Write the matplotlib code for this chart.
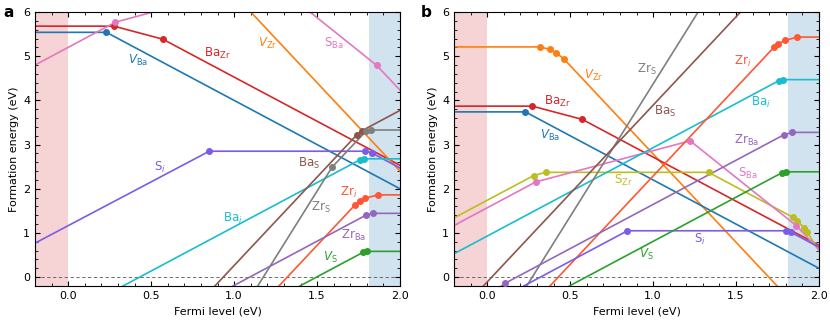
import matplotlib
matplotlib.use('Agg')
import matplotlib.pyplot as plt
from matplotlib.ticker import MultipleLocator

# defect formation energy lines: vertices (Fermi level, energy); inner vertices = transition levels
a_VBa = [(-0.2, 5.54), (0.23, 5.54), (2.0, 2.0)]
a_BaZr = [(-0.2, 5.68), (0.275, 5.68), (0.57, 5.385), (2.0, 2.53)]
a_SBa = [(-0.2, 4.8), (0.285, 5.77), (1.2175, 6.72), (1.86, 4.79), (2.0, 4.23)]
a_VZr = [(0.9, 6.8), (2.0, 2.4)]
a_Si = [(-0.2, 0.77), (0.85, 2.85), (1.79, 2.85), (1.83, 2.81), (2.0, 2.47)]
a_Bai = [(0.33, -0.2), (1.758, 2.656), (1.78, 2.678), (2.0, 2.678)]
a_BaS = [(0.884, -0.2), (1.74, 3.224), (1.77, 3.314), (2.0, 3.774)]
a_ZrS = [(1.142, -0.2), (1.59, 2.488), (1.794, 3.30), (1.824, 3.33), (2.0, 3.33)]
a_Zri = [(1.27, -0.2), (1.728, 1.632), (1.758, 1.722), (1.79, 1.786), (1.866, 1.862), (2.0, 1.862)]
a_ZrBa = [(0.993, -0.2), (1.794, 1.402), (1.836, 1.444), (2.0, 1.444)]
a_VS = [(1.396, -0.2), (1.776, 0.56), (1.80, 0.584), (2.0, 0.584)]

b_VZr = [(-0.2, 5.21), (0.32, 5.21), (0.377, 5.153), (0.417, 5.073), (0.463, 4.935), (2.0, -1.21)]
b_BaZr = [(-0.2, 3.87), (0.272, 3.87), (0.573, 3.57), (2.0, 0.72)]
b_VBa = [(-0.2, 3.74), (0.23, 3.74), (2.0, 0.2)]
b_SZr = [(-0.2, 1.34), (0.28, 2.30), (0.352, 2.372), (1.334, 2.372), (1.844, 1.352),
         (1.87, 1.274), (1.91, 1.114), (1.93, 1.014), (2.0, 0.594)]
b_SBa = [(-0.2, 1.17), (0.292, 2.154), (1.223, 3.085), (1.864, 1.162), (2.0, 0.62)]
b_Bai = [(-0.2, 0.53), (1.76, 4.45), (1.78, 4.47), (2.0, 4.47)]
b_Zri = [(0.378, -0.2), (1.728, 5.2), (1.753, 5.275), (1.794, 5.357), (1.87, 5.433), (2.0, 5.433)]
b_ZrS = [(0.238, -0.2), (1.4, 6.772)]
b_BaS = [(-0.023, -0.2), (1.6, 6.292)]
b_ZrBa = [(0.0, -0.46), (0.107, -0.14), (1.79, 3.226), (1.84, 3.276), (2.0, 3.276)]
b_Si = [(0.22, -0.2), (0.845, 1.05), (1.80, 1.05), (1.828, 1.022), (2.0, 0.678)]
b_VS = [(0.495, -0.2), (1.774, 2.358), (1.80, 2.384), (2.0, 2.384)]

colors = {
    'VBa': '#1f77b4', 'BaZr': '#d62728', 'SBa': '#e377c2', 'VZr': '#ff7f0e',
    'Si': '#7b5ce8', 'Bai': '#17becf', 'BaS': '#8c564b', 'ZrS': '#7f7f7f',
    'Zri': '#ff5733', 'ZrBa': '#9467bd', 'VS': '#2ca02c', 'SZr': '#bcbd22',
}
texts = {
    'VBa': r'$V_{\mathrm{Ba}}$', 'BaZr': r'Ba$_{\mathrm{Zr}}$', 'SBa': r'S$_{\mathrm{Ba}}$',
    'VZr': r'$V_{\mathrm{Zr}}$', 'Si': r'S$_i$', 'Bai': r'Ba$_i$', 'BaS': r'Ba$_{\mathrm{S}}$',
    'ZrS': r'Zr$_{\mathrm{S}}$', 'Zri': r'Zr$_i$', 'ZrBa': r'Zr$_{\mathrm{Ba}}$',
    'VS': r'$V_{\mathrm{S}}$', 'SZr': r'S$_{\mathrm{Zr}}$',
}

panel_a = {'VBa': a_VBa, 'BaZr': a_BaZr, 'SBa': a_SBa, 'VZr': a_VZr, 'Si': a_Si,
           'Bai': a_Bai, 'BaS': a_BaS, 'ZrS': a_ZrS, 'Zri': a_Zri, 'ZrBa': a_ZrBa, 'VS': a_VS}
panel_b = {'VZr': b_VZr, 'BaZr': b_BaZr, 'VBa': b_VBa, 'SZr': b_SZr, 'SBa': b_SBa,
           'Bai': b_Bai, 'Zri': b_Zri, 'ZrS': b_ZrS, 'BaS': b_BaS, 'ZrBa': b_ZrBa,
           'Si': b_Si, 'VS': b_VS}

labels_a = {'BaZr': (0.90, 5.06), 'VBa': (0.42, 4.90), 'VZr': (1.20, 5.28), 'SBa': (1.60, 5.28),
            'Si': (0.55, 2.49), 'BaS': (1.45, 2.57), 'ZrS': (1.52, 1.58), 'Zri': (1.69, 1.92),
            'Bai': (0.99, 1.33), 'ZrBa': (1.72, 0.95), 'VS': (1.58, 0.45)}
labels_b = {'VZr': (0.64, 4.56), 'BaZr': (0.42, 3.97), 'VBa': (0.38, 3.21), 'SZr': (0.82, 2.19),
            'ZrS': (0.96, 4.71), 'BaS': (1.07, 3.75), 'Zri': (1.54, 4.88), 'Bai': (1.65, 3.96),
            'ZrBa': (1.56, 3.09), 'SBa': (1.57, 2.35), 'Si': (1.28, 0.85), 'VS': (0.96, 0.51)}

plt.rcParams['font.size'] = 8

fig = plt.figure(figsize=(8.3, 3.21), dpi=100)
ax_a = fig.add_axes([0.0422, 0.109, 0.4398, 0.8536])
ax_b = fig.add_axes([0.547, 0.109, 0.4398, 0.8536])


def draw(ax, panel, labels):
    ax.axvspan(-0.2, 0.0, color='#d62728', alpha=0.2, lw=0, zorder=0)
    ax.axvspan(1.81, 2.0, color='#1f77b4', alpha=0.2, lw=0, zorder=0)
    ax.axhline(0, color='#555555', ls='--', lw=0.6, dashes=(4, 3), zorder=1)
    for key, pts in panel.items():
        xs = [p[0] for p in pts]
        ys = [p[1] for p in pts]
        ax.plot(xs, ys, color=colors[key], lw=1.2, zorder=2)
        ax.plot(xs[1:-1], ys[1:-1], 'o', color=colors[key], ms=4, zorder=3)
    for key, (x, y) in labels.items():
        ax.text(x, y, texts[key], color=colors[key], fontsize=8.5, ha='center', va='center')
    ax.set_xlim(-0.2, 2.0)
    ax.set_ylim(-0.2, 6)
    ax.xaxis.set_major_locator(MultipleLocator(0.5))
    ax.xaxis.set_minor_locator(MultipleLocator(0.1))
    ax.yaxis.set_major_locator(MultipleLocator(1))
    ax.yaxis.set_minor_locator(MultipleLocator(0.2))
    ax.tick_params(which='both', direction='in', top=True, right=True, labelsize=8)
    ax.tick_params(which='major', length=3.5)
    ax.tick_params(which='minor', length=2)
    ax.set_xlabel('Fermi level (eV)', fontsize=8)
    ax.set_ylabel('Formation energy (eV)', fontsize=8, labelpad=3)


draw(ax_a, panel_a, labels_a)
draw(ax_b, panel_b, labels_b)

fig.text(0.004, 0.947, 'a', fontsize=11, fontweight='bold', ha='left', va='baseline')
fig.text(0.507, 0.947, 'b', fontsize=11, fontweight='bold', ha='left', va='baseline')

fig.savefig('out.png', dpi=100)
